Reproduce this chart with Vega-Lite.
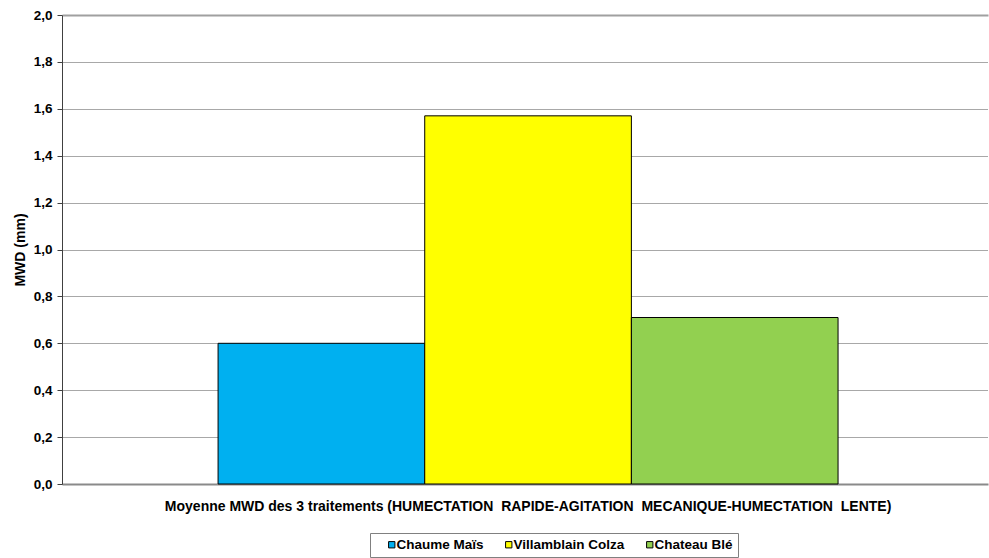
{
  "$schema": "https://vega.github.io/schema/vega-lite/v6.json",
  "width": 926,
  "height": 469,
  "autosize": {"type": "none"},
  "padding": {"left": 62, "top": 15, "right": 1, "bottom": 74},
  "background": "white",
  "config": {
    "font": "Liberation Sans",
    "view": {"stroke": null},
    "axis": {"labelFont": "Liberation Sans", "titleFont": "Liberation Sans"}
  },
  "data": {
    "values": [
      {"groupe": "Moyenne MWD des 3 traitements (HUMECTATION\u00a0 RAPIDE-AGITATION\u00a0 MECANIQUE-HUMECTATION\u00a0 LENTE)", "site": "Chaume Maïs", "mwd": 0.6},
      {"groupe": "Moyenne MWD des 3 traitements (HUMECTATION\u00a0 RAPIDE-AGITATION\u00a0 MECANIQUE-HUMECTATION\u00a0 LENTE)", "site": "Villamblain Colza", "mwd": 1.57},
      {"groupe": "Moyenne MWD des 3 traitements (HUMECTATION\u00a0 RAPIDE-AGITATION\u00a0 MECANIQUE-HUMECTATION\u00a0 LENTE)", "site": "Chateau Blé", "mwd": 0.71}
    ]
  },
  "mark": {"type": "bar", "stroke": "#000000", "strokeWidth": 1},
  "encoding": {
    "x": {
      "field": "groupe",
      "type": "nominal",
      "scale": {"paddingInner": 0, "paddingOuter": 0.2468, "align": 0.51},
      "axis": {
        "title": null,
        "labelAngle": 0,
        "labelFontSize": 14,
        "labelFontWeight": "bold",
        "labelColor": "#000000",
        "labelPadding": 15,
        "labelLimit": 0,
        "ticks": false,
        "domainColor": "#8a8a8a",
        "domainWidth": 2
      }
    },
    "xOffset": {
      "field": "site",
      "type": "nominal",
      "sort": ["Chaume Maïs", "Villamblain Colza", "Chateau Blé"],
      "scale": {"paddingInner": 0, "paddingOuter": 0}
    },
    "y": {
      "field": "mwd",
      "type": "quantitative",
      "scale": {"domain": [0, 2], "nice": false},
      "axis": {
        "title": "MWD (mm)",
        "titleFontSize": 14,
        "titleFontWeight": "bold",
        "titleColor": "#000000",
        "titlePadding": 6,
        "values": [0, 0.2, 0.4, 0.6, 0.8, 1.0, 1.2, 1.4, 1.6, 1.8, 2.0],
        "labelExpr": "replace(format(datum.value, '.1f'), '.', ',')",
        "labelFontSize": 13.5,
        "labelFontWeight": "bold",
        "labelColor": "#000000",
        "labelPadding": 5,
        "tickSize": 5,
        "tickColor": "#404040",
        "domainColor": "#404040",
        "domainWidth": 1,
        "grid": true,
        "gridColor": {"condition": {"test": "datum.value === 2", "value": "#a0a0a0"}, "value": "#505050"},
        "gridWidth": {"condition": {"test": "datum.value === 2", "value": 2}, "value": 1},
        "gridDash": {"condition": {"test": "datum.value === 2", "value": []}, "value": [1, 1]}
      }
    },
    "color": {
      "field": "site",
      "type": "nominal",
      "sort": ["Chaume Maïs", "Villamblain Colza", "Chateau Blé"],
      "scale": {
        "domain": ["Chaume Maïs", "Villamblain Colza", "Chateau Blé"],
        "range": ["#00B0F0", "#FFFF00", "#92D050"]
      },
      "legend": {
        "title": null,
        "orient": "none",
        "legendX": 308,
        "legendY": 518,
        "direction": "horizontal",
        "strokeColor": "#808080",
        "padding": 5,
        "symbolType": "square",
        "symbolSize": 40,
        "symbolOffset": 10,
        "symbolStrokeColor": "#000000",
        "symbolStrokeWidth": 1,
        "labelFont": "Liberation Sans",
        "labelFontSize": 13.5,
        "labelFontWeight": "bold",
        "labelColor": "#000000",
        "labelOffset": -2,
        "labelExpr": "datum.label === 'Chateau Blé' ? datum.label + '\u00a0\u00a0\u00a0\u00a0' : datum.label",
        "columnPadding": 8,
        "gridAlign": "none"
      }
    }
  }
}
